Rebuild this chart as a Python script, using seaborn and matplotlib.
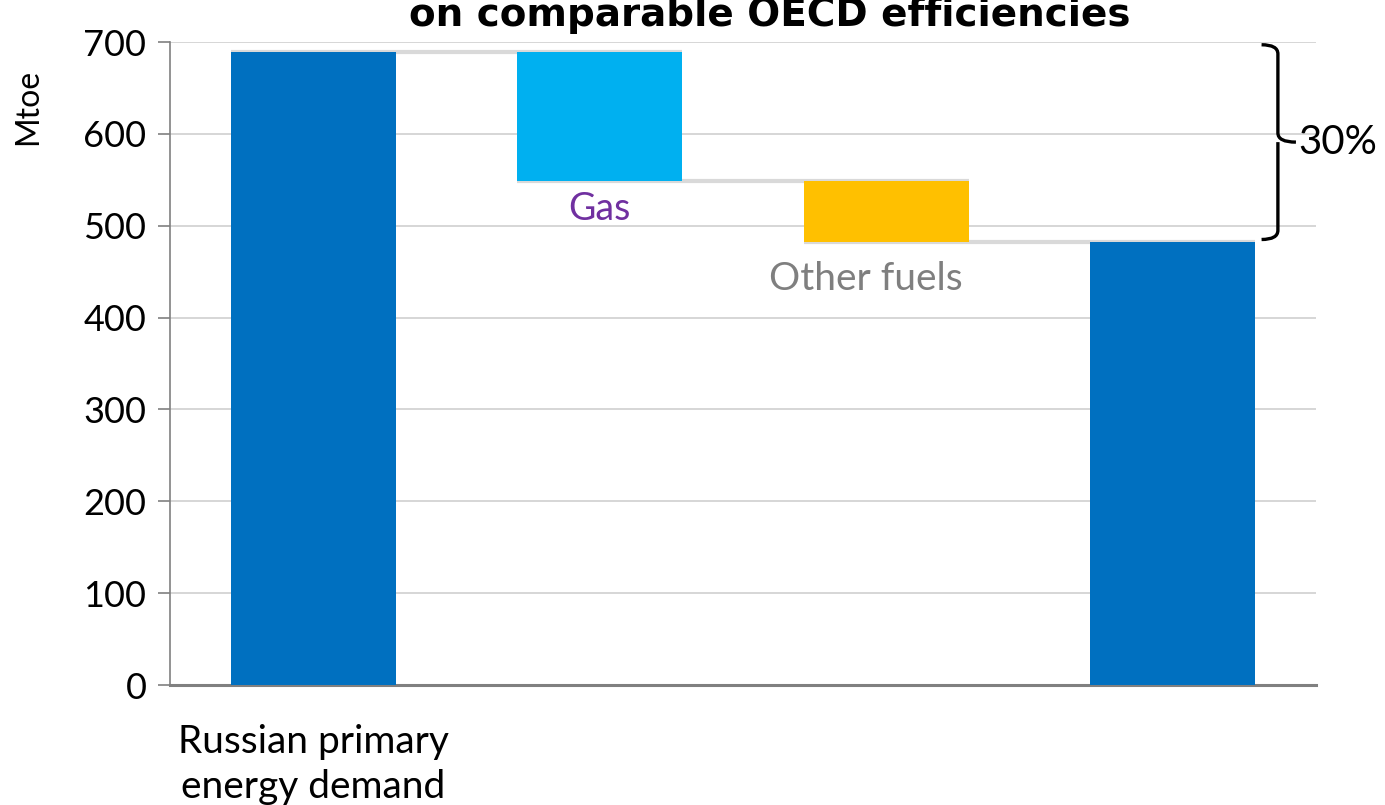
import matplotlib
matplotlib.use("Agg")
import matplotlib.pyplot as plt
from matplotlib.path import Path
from matplotlib.patches import PathPatch
import seaborn as sns
import pandas as pd

# Waterfall of Russian primary energy demand (Mtoe)
categories = ["Russian primary energy demand", "Gas", "Other fuels", "Result"]
tick_labels = ["Russian primary\nenergy demand", "", "", ""]
start_value = 689
changes = [-140, -67]
bar_colors = ["#0070C0", "#00B0F0", "#FFC000", "#0070C0"]
saving_label = "30%"
title_text = "on comparable OECD efficiencies"
y_ticks = [0, 100, 200, 300, 400, 500, 600, 700]

# floating bar extents
end_value = start_value + sum(changes)
levels = [start_value]
for c in changes:
    levels.append(levels[-1] + c)
tops = [start_value, levels[0], levels[1], end_value]
bottoms = [0, levels[1], levels[2], 0]
df = pd.DataFrame({"category": categories, "top": tops, "bottom": bottoms})

sns.set_theme(style="white")
plt.rcParams["font.family"] = ["Lato", "DejaVu Sans"]
plt.rcParams["text.color"] = "black"
plt.rcParams["xtick.color"] = "black"
plt.rcParams["ytick.color"] = "black"

fig = plt.figure(figsize=(13.85, 8.05), dpi=100)
ax = fig.add_axes([170 / 1385, 1 - 685 / 805, (1316 - 170) / 1385, (685 - 42) / 805])

bar_width = 0.576
sns.barplot(data=df, x="category", y="top", hue="category", palette=bar_colors,
            legend=False, width=bar_width, ax=ax, saturation=1, zorder=3)
for patch, b, t in zip(ax.patches, df["bottom"], df["top"]):
    patch.set_y(b)
    patch.set_height(t - b)
    patch.set_linewidth(0)

# connector lines between consecutive bars
for i, level in enumerate(levels):
    ax.plot([i - bar_width / 2, i + 1 + bar_width / 2], [level, level],
            color="#D9D9D9", lw=3, zorder=2, solid_capstyle="butt")

ax.set_xlim(-0.5, 3.5)
ax.set_ylim(0, 700)
ax.set_yticks(y_ticks)
ax.yaxis.grid(True, color="#D0D0D0", lw=1.2, zorder=0)
ax.set_axisbelow(True)
ax.tick_params(axis="y", which="major", length=9, width=1.2, color="#808080",
               labelcolor="black", labelsize=26, pad=8, left=True)
ax.tick_params(axis="x", length=0, labelsize=28, pad=28, labelcolor="black")
ax.set_xticks(range(len(categories)))
ax.set_xticklabels(tick_labels, linespacing=1.3)
ax.set_xlabel("")
ax.set_ylabel("")
for side in ["top", "right"]:
    ax.spines[side].set_visible(False)
ax.spines["left"].set_color("#808080")
ax.spines["left"].set_linewidth(1.2)
ax.spines["bottom"].set_color("#808080")
ax.spines["bottom"].set_linewidth(2.2)

# category labels below floating bars
ax.text(1, df["bottom"][1] - 31, "Gas", color="#7030A0", fontsize=27,
        ha="center", va="center")
ax.text(1.93, df["bottom"][2] - 40, "Other fuels", color="#7F7F7F", fontsize=28,
        ha="center", va="center")

# curly brace showing the overall reduction
btop, bbot = start_value + 8, end_value + 3
bmid = (btop + bbot) / 2
xl, xv, xt = 3.31, 3.367, 3.43
r = 10
verts = [(xl, btop), (xv, btop), (xv, btop - r),
         (xv, bmid + r), (xv, bmid), (xt, bmid),
         (xv, bmid), (xv, bmid - r),
         (xv, bbot + r), (xv, bbot), (xl, bbot)]
codes = [Path.MOVETO, Path.CURVE3, Path.CURVE3,
         Path.LINETO, Path.CURVE3, Path.CURVE3,
         Path.MOVETO, Path.CURVE3,
         Path.LINETO, Path.CURVE3, Path.CURVE3]
brace = PathPatch(Path(verts, codes), fill=False, lw=2.4, color="black",
                  clip_on=False, zorder=4)
ax.add_patch(brace)
ax.text(xt + 0.01, bmid, saving_label, fontsize=29, ha="left", va="center",
        clip_on=False)

fig.text(28 / 1385, 1 - 107 / 805, "Mtoe", rotation=90, fontsize=23,
         ha="center", va="center")
fig.text(770 / 1385, 1 - 26 / 805, title_text, fontsize=28, fontweight="bold",
         family=["DejaVu Sans"], ha="center", va="baseline")

fig.savefig("out.png", dpi=100)
